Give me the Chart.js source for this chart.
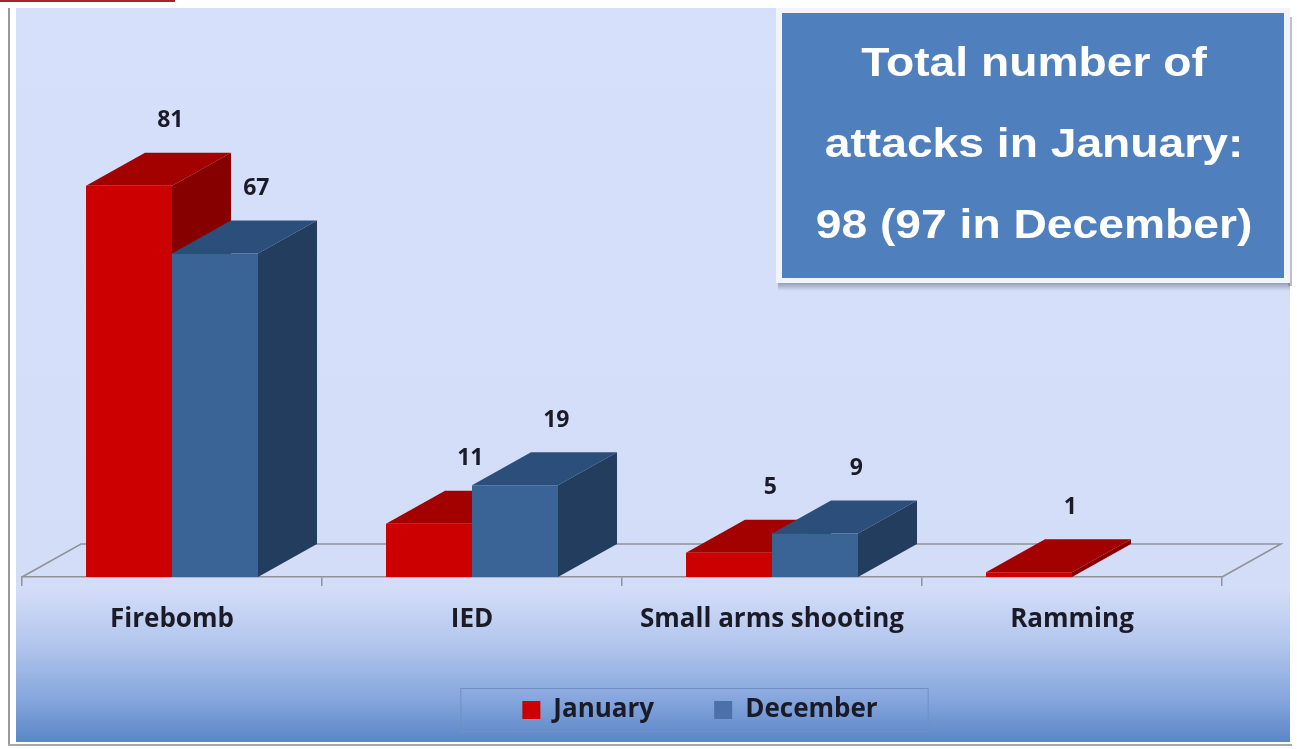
<!DOCTYPE html>
<html>
<head>
<meta charset="utf-8">
<script src="https://cdn.jsdelivr.net/npm/chart.js@4/dist/chart.umd.min.js"></script>
<style>
  html, body { margin: 0; padding: 0; background: #ffffff; }
  #wrap { width: 1297px; height: 749px; position: relative; }
</style>
</head>
<body>
<div id="wrap"><canvas id="c" width="1297" height="749"></canvas></div>
<script>
// ---- data ----
const categories = ['Firebomb', 'IED', 'Small arms shooting', 'Ramming'];
const january = [81, 11, 5, 1];
const december = [67, 19, 9, null];
const seriesNames = ['January', 'December'];
const boxLines = ['Total number of', 'attacks in January:', '98 (97 in December)'];

// ---- styles ----
const FRONT = ['#cc0000', '#3a6496'];
const TOP = ['#a30000', '#2c4e7b'];
const SIDE = ['#870000', '#233d5f'];
const LEGEND_COL = ['#cc0000', '#4a72a8'];
const DX = 59, DY = -33;
const TEXT_COL = '#1b1b28';
const FONT = '"Open Sans", "DejaVu Sans", sans-serif';

const bgPlugin = {
  id: 'bg',
  beforeDraw(chart) {
    const ctx = chart.ctx;
    ctx.save();
    ctx.fillStyle = '#ffffff';
    ctx.fillRect(0, 0, chart.width, chart.height);
    const g = ctx.createLinearGradient(0, 8, 0, 742);
    g.addColorStop(0, '#d7e0fb');
    g.addColorStop(0.79, '#d4ddf8');
    g.addColorStop(0.86, '#b6c8ee');
    g.addColorStop(0.94, '#87a7de');
    g.addColorStop(1, '#5a86c6');
    ctx.fillStyle = g;
    ctx.fillRect(16, 8, 1274, 734);
    ctx.fillStyle = '#9a9a9a';
    ctx.fillRect(8, 8, 2, 737);
    ctx.fillStyle = '#a8a8a8';
    ctx.fillRect(8, 744, 1284, 2);
    ctx.fillStyle = '#a3262a';
    ctx.fillRect(0, 0, 175, 2);
    ctx.restore();
  }
};

const bars3d = {
  id: 'bars3d',
  beforeDatasetsDraw(chart) {
    const ctx = chart.ctx;
    const a = chart.chartArea;
    ctx.save();
    ctx.strokeStyle = '#8f9298';
    ctx.lineWidth = 1.5;
    ctx.beginPath();
    ctx.moveTo(a.left, a.bottom);
    ctx.lineTo(a.left + DX, a.bottom + DY);
    ctx.lineTo(a.right + DX, a.bottom + DY);
    ctx.lineTo(a.right, a.bottom);
    ctx.stroke();
    const n = categories.length;
    for (let i = 0; i < n; i++) {
      chart.data.datasets.forEach((ds, d) => {
        const v = ds.data[i];
        if (v === null || v === undefined) return;
        const el = chart.getDatasetMeta(d).data[i];
        const p = el.getProps(['x', 'y', 'base', 'width'], true);
        const l = p.x - p.width / 2, r = p.x + p.width / 2;
        ctx.fillStyle = SIDE[d];
        ctx.beginPath();
        ctx.moveTo(r, p.y);
        ctx.lineTo(r + DX, p.y + DY);
        ctx.lineTo(r + DX, p.base + DY);
        ctx.lineTo(r, p.base);
        ctx.closePath();
        ctx.fill();
        ctx.fillStyle = TOP[d];
        ctx.beginPath();
        ctx.moveTo(l, p.y);
        ctx.lineTo(r, p.y);
        ctx.lineTo(r + DX, p.y + DY);
        ctx.lineTo(l + DX, p.y + DY);
        ctx.closePath();
        ctx.fill();
      });
    }
    ctx.restore();
  },
  afterDatasetsDraw(chart) {
    const ctx = chart.ctx;
    ctx.save();
    ctx.fillStyle = TEXT_COL;
    ctx.font = 'bold 23px ' + FONT;
    ctx.textAlign = 'center';
    ctx.textBaseline = 'middle';
    chart.data.datasets.forEach((ds, d) => {
      chart.getDatasetMeta(d).data.forEach((el, i) => {
        const v = ds.data[i];
        if (v === null || v === undefined) return;
        const p = el.getProps(['x', 'y'], true);
        ctx.fillText(String(v), p.x + DX * 0.7, p.y + DY - 32);
      });
    });
    ctx.restore();
  }
};

const extras = {
  id: 'extras',
  afterLayout(chart) {
    const lg = chart.legend;
    if (lg) { lg.left += 78; lg.right += 78; }
  },
  afterDraw(chart) {
    const ctx = chart.ctx;
    ctx.save();
    const hb = chart.legend.legendHitBoxes;
    if (hb && hb.length) {
      const l = Math.min(...hb.map(h => h.left)) - 62;
      const r = Math.max(...hb.map(h => h.left + h.width)) + 50;
      const cy = hb[0].top + hb[0].height / 2;
      ctx.strokeStyle = '#7090c6';
      ctx.lineWidth = 1;
      ctx.strokeRect(l + 0.5, cy - 21.5, r - l, 43);
    }
    const bx = 782, by = 13, bw = 502, bh = 265;
    const sg = ctx.createLinearGradient(0, by + bh + 3, 0, by + bh + 13);
    sg.addColorStop(0, 'rgba(110,115,130,0.75)');
    sg.addColorStop(1, 'rgba(110,115,130,0)');
    ctx.fillStyle = sg;
    ctx.fillRect(bx - 4, by + bh + 3, bw + 10, 10);
    ctx.fillStyle = 'rgba(110,115,130,0.45)';
    ctx.fillRect(bx + bw + 4, by + 4, 4, bh + 4);
    ctx.fillStyle = '#f2f4fb';
    ctx.fillRect(bx - 6, by - 5, bw + 12, bh + 10);
    ctx.fillStyle = '#4f80bd';
    ctx.fillRect(bx, by, bw, bh);
    ctx.fillStyle = '#ffffff';
    ctx.font = 'bold 40px "Liberation Sans", Arial, sans-serif';
    ctx.textAlign = 'center';
    ctx.textBaseline = 'middle';
    boxLines.forEach((t, k) => {
      ctx.save();
      ctx.translate(bx + bw / 2 + 1, by + 52 + k * 81);
      ctx.scale(1.155, 1);
      ctx.fillText(t, 0, 0);
      ctx.restore();
    });
    ctx.restore();
  }
};

new Chart(document.getElementById('c'), {
  type: 'bar',
  data: {
    labels: categories,
    datasets: [
      { label: seriesNames[0], data: january, backgroundColor: FRONT[0], borderWidth: 0 },
      { label: seriesNames[1], data: december, backgroundColor: FRONT[1], borderWidth: 0 }
    ]
  },
  options: {
    responsive: false,
    animation: false,
    devicePixelRatio: 1,
    layout: { padding: { left: 22, right: 75, top: 94, bottom: 16 } },
    datasets: { bar: { categoryPercentage: 0.5733, barPercentage: 1 } },
    scales: {
      y: { display: false, min: 0, max: 100 },
      x: {
        afterFit: s => { s.height = 60; },
        grid: { display: true, drawOnChartArea: false, drawTicks: true, tickLength: 9, offset: true, color: '#8f9298', lineWidth: 1.5 },
        border: { display: true, color: '#8f9298', width: 1.5 },
        ticks: { color: TEXT_COL, font: { family: FONT, size: 26, weight: 'bold' }, padding: 18, maxRotation: 0, autoSkip: false }
      }
    },
    plugins: {
      tooltip: { enabled: false },
      legend: {
        position: 'bottom',
        labels: {
          color: TEXT_COL,
          font: { family: FONT, size: 26, weight: 'bold' },
          boxWidth: 18, boxHeight: 18, padding: 60,
          generateLabels: (chart) => {
            const items = Chart.defaults.plugins.legend.labels.generateLabels(chart);
            items.forEach((it, k) => { it.fillStyle = LEGEND_COL[k]; it.lineWidth = 0; it.strokeStyle = LEGEND_COL[k]; });
            return items;
          }
        }
      }
    }
  },
  plugins: [bgPlugin, bars3d, extras]
});
</script>
</body>
</html>
